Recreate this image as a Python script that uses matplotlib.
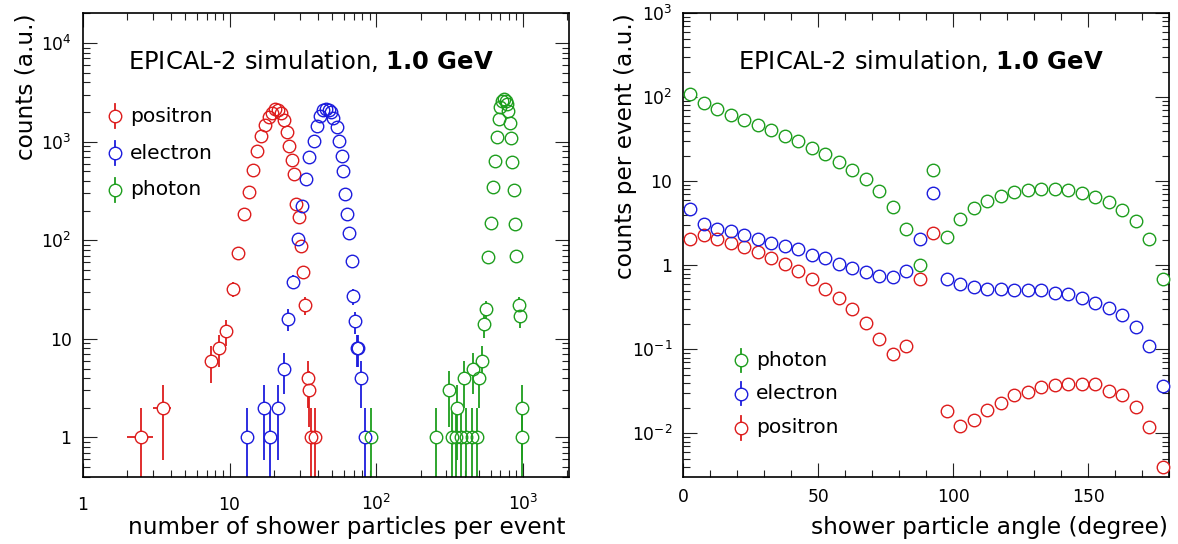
import numpy as np
import matplotlib.pyplot as plt
from matplotlib.ticker import FixedLocator, LogLocator, MultipleLocator, NullFormatter, FuncFormatter
from matplotlib.transforms import blended_transform_factory

plt.rcParams['font.family'] = 'DejaVu Sans'
plt.rcParams['mathtext.fontset'] = 'dejavusans'

RED = '#dd1c1c'
BLUE = '#1c1cdd'
GREEN = '#1e9e1e'

# --- multiplicity of shower particles (left) ---
pos_n = [2.5, 3.5, 7.5, 8.5, 9.5, 10.5, 11.5, 12.5, 13.5, 14.5, 15.5, 16.5, 17.5,
         18.5, 19.5, 20.5, 21.5, 22.5, 23.5, 24.5, 25.5, 26.5, 27.5, 28.5, 29.5,
         30.5, 31.5, 32.5, 34.0, 35.0, 36.0, 38.0]
pos_counts = [1, 2, 6, 8, 12, 32, 75, 185, 305, 520, 795, 1130, 1490,
              1770, 1960, 2160, 2080, 1950, 1670, 1250, 894, 645, 465, 234, 174,
              88, 48, 22, 4, 3, 1, 1]

ele_n = [13.2, 17.1, 19.0, 21.4, 23.5, 25.1, 27.2, 29.2, 31.3, 33.1, 34.9, 37.6,
         39.5, 41.2, 43.4, 45.3, 47.3, 48.8, 50.8, 53.6, 55.9, 58.0, 59.5, 61.3,
         62.7, 65.3, 68.1, 69.5, 71.4, 73.3, 75.5, 78.1, 83.5]
ele_counts = [1, 2, 1, 2, 5, 16, 38, 104, 225, 414, 697, 1012,
              1426, 1802, 2072, 2157, 2107, 1990, 1747, 1403, 1005, 708, 502, 296,
              186, 119, 62, 27, 15, 8, 8, 4, 1]

pho_n = [91.5, 254, 313, 325, 348, 355, 376, 398, 411, 445, 457, 481, 499, 521,
         545, 562, 577, 599, 621, 641, 661, 679, 700, 722, 741, 760, 777, 794,
         811, 828, 843, 863, 881, 900, 930, 950, 975, 989]
pho_counts = [1, 1, 3, 1, 1, 2, 1, 4, 1, 1, 5, 1, 4, 6,
              14, 20, 67, 149, 343, 634, 1111, 1679, 2240, 2576, 2723, 2576, 2421, 2024,
              1554, 1097, 625, 320, 147, 69, 22, 17, 2, 1]

# half bin widths
pos_dx, ele_dx, pho_dx = 0.5, 1.0, 10.0

# --- angular distribution (right) ---
angle = [2.5, 7.5, 12.5, 17.5, 22.5, 27.5, 32.5, 37.5, 42.5, 47.5, 52.5, 57.5,
         62.5, 67.5, 72.5, 77.5, 82.5, 87.5, 92.5, 97.5, 102.5, 107.5, 112.5, 117.5,
         122.5, 127.5, 132.5, 137.5, 142.5, 147.5, 152.5, 157.5, 162.5, 167.5, 172.5, 177.5]
pho_ang = [111, 85, 72, 62, 54, 47, 41, 35, 30, 25, 21, 17,
           13.6, 10.6, 7.6, 5.0, 2.7, 1.0, 13.8, 2.2, 3.6, 4.8, 5.9, 6.7,
           7.4, 7.9, 8.1, 8.1, 7.8, 7.3, 6.6, 5.7, 4.6, 3.35, 2.07, 0.69]
ele_ang = [4.7, 3.07, 2.74, 2.54, 2.27, 2.06, 1.87, 1.70, 1.55, 1.34, 1.22, 1.05,
           0.93, 0.83, 0.74, 0.72, 0.85, 2.05, 7.2, 0.69, 0.60, 0.556, 0.526, 0.518,
           0.508, 0.505, 0.505, 0.464, 0.452, 0.405, 0.359, 0.310, 0.254, 0.183, 0.110, 0.037]
pos_ang = [2.06, 2.31, 2.06, 1.84, 1.65, 1.43, 1.22, 1.03, 0.85, 0.69, 0.53, 0.41,
           0.305, 0.204, 0.133, 0.088, 0.110, 0.69, 2.45, 0.0186, 0.0123, 0.0144, 0.0189, 0.0227,
           0.0283, 0.0313, 0.0359, 0.0376, 0.0386, 0.0383, 0.0383, 0.0319, 0.0283, 0.0207, 0.0119, 0.0040]

MS = 9.0
MEW = 1.0
LABEL_FS = 16.7
TICK_FS = 12.3


def draw_points(ax, x, y, color, dx=None):
    x = np.asarray(x, float)
    y = np.asarray(y, float)
    if dx is not None:
        ax.errorbar(x, y, xerr=dx, yerr=np.sqrt(y), fmt='none', ecolor=color,
                    elinewidth=1.3, capsize=0, zorder=2)
    # white disc hides the bar inside the circle, outline goes on top
    ax.plot(x, y, 'o', ms=MS, mfc='white', mec='none', zorder=3, clip_on=False)
    ax.plot(x, y, 'o', ms=MS, mfc='none', mec=color, mew=MEW, zorder=4, clip_on=False)


def power_label(v, pos=None):
    e = int(round(np.log10(v)))
    if e == 0:
        return '1'
    if e == 1:
        return '10'
    return r'$\mathregular{10^{%d}}$' % e


def legend_entry(ax, x, y, text, color):
    ax.plot([x, x], [y - 0.0255, y + 0.0255], color=color, lw=1.3,
            transform=ax.transAxes, zorder=5)
    ax.plot([x], [y], 'o', ms=MS, mfc='white', mec=color, mew=MEW,
            transform=ax.transAxes, zorder=6)
    ax.text(x + 0.03, y, text, transform=ax.transAxes, fontsize=14.6,
            va='center', ha='left')


def style_axes(ax):
    ax.tick_params(which='both', direction='in', top=True, right=True, width=0.8,
                   labelsize=TICK_FS, color='#222222')
    ax.tick_params(which='major', length=10, pad=8)
    ax.tick_params(which='minor', length=5)
    for s in ax.spines.values():
        s.set_linewidth(1.2)


fig = plt.figure(figsize=(11.78, 5.44), dpi=100)
ax1 = fig.add_axes([0.0702, 0.1237, 0.4128, 0.8518])
ax2 = fig.add_axes([0.5801, 0.1237, 0.4126, 0.8518])

# left panel
ax1.set_xscale('log')
ax1.set_yscale('log')
ax1.set_xlim(1, 2050)
ax1.set_ylim(0.4, 2e4)
draw_points(ax1, pos_n, pos_counts, RED, pos_dx)
draw_points(ax1, ele_n, ele_counts, BLUE, ele_dx)
draw_points(ax1, pho_n, pho_counts, GREEN, pho_dx)

style_axes(ax1)
ax1.xaxis.set_major_locator(FixedLocator([1, 10, 100, 1000]))
ax1.xaxis.set_minor_locator(LogLocator(base=10, subs=np.arange(2, 10), numticks=20))
ax1.xaxis.set_major_formatter(NullFormatter())
ax1.xaxis.set_minor_formatter(NullFormatter())
ax1.yaxis.set_major_locator(FixedLocator([1, 10, 100, 1000, 10000]))
ax1.yaxis.set_minor_locator(LogLocator(base=10, subs=np.arange(2, 10), numticks=20))
ax1.yaxis.set_major_formatter(FuncFormatter(power_label))
ax1.yaxis.set_minor_formatter(NullFormatter())
tr1 = blended_transform_factory(ax1.transData, ax1.transAxes)
for v in [1, 10, 100, 1000]:
    ax1.text(v, -0.072, power_label(v), transform=tr1, ha='center', va='baseline',
             fontsize=TICK_FS)

ax1.set_xlabel('number of shower particles per event', fontsize=LABEL_FS, loc='right')
ax1.xaxis.label.set_va('baseline')
ax1.xaxis.set_label_coords(0.993, -0.124)
ax1.set_ylabel('counts (a.u.)', fontsize=LABEL_FS, loc='top')
ax1.yaxis.set_label_coords(-0.0925, 1.0)

ax1.text(0.0938, 0.879, r'EPICAL-2 simulation, $\mathbf{1.0\ GeV}$',
         transform=ax1.transAxes, fontsize=17.5, va='baseline')
legend_entry(ax1, 0.067, 0.778, 'positron', RED)
legend_entry(ax1, 0.067, 0.698, 'electron', BLUE)
legend_entry(ax1, 0.067, 0.619, 'photon', GREEN)

# right panel
ax2.set_yscale('log')
ax2.set_xlim(0, 180)
ax2.set_ylim(3.05e-3, 1e3)
draw_points(ax2, angle, pos_ang, RED)
draw_points(ax2, angle, ele_ang, BLUE)
draw_points(ax2, angle, pho_ang, GREEN)

style_axes(ax2)
ax2.xaxis.set_major_locator(MultipleLocator(50))
ax2.xaxis.set_minor_locator(MultipleLocator(10))
ax2.xaxis.set_major_formatter(NullFormatter())
ax2.yaxis.set_major_locator(FixedLocator([1e-2, 1e-1, 1, 10, 100, 1000]))
ax2.yaxis.set_minor_locator(LogLocator(base=10, subs=np.arange(2, 10), numticks=20))
ax2.yaxis.set_major_formatter(FuncFormatter(power_label))
ax2.yaxis.set_minor_formatter(NullFormatter())
tr2 = blended_transform_factory(ax2.transData, ax2.transAxes)
for v in [0, 50, 100, 150]:
    ax2.text(v, -0.055, str(v), transform=tr2, ha='center', va='baseline', fontsize=TICK_FS)

ax2.set_xlabel('shower particle angle (degree)', fontsize=LABEL_FS, loc='right')
ax2.xaxis.label.set_va('baseline')
ax2.xaxis.set_label_coords(0.997, -0.124)
ax2.set_ylabel('counts per event (a.u.)', fontsize=LABEL_FS, loc='top')
ax2.yaxis.set_label_coords(-0.096, 1.0)

ax2.text(0.112, 0.879, r'EPICAL-2 simulation, $\mathbf{1.0\ GeV}$',
         transform=ax2.transAxes, fontsize=17.5, va='baseline')
legend_entry(ax2, 0.1195, 0.2508, 'photon', GREEN)
legend_entry(ax2, 0.1195, 0.1793, 'electron', BLUE)
legend_entry(ax2, 0.1195, 0.1057, 'positron', RED)

fig.savefig('out.png', dpi=100)
